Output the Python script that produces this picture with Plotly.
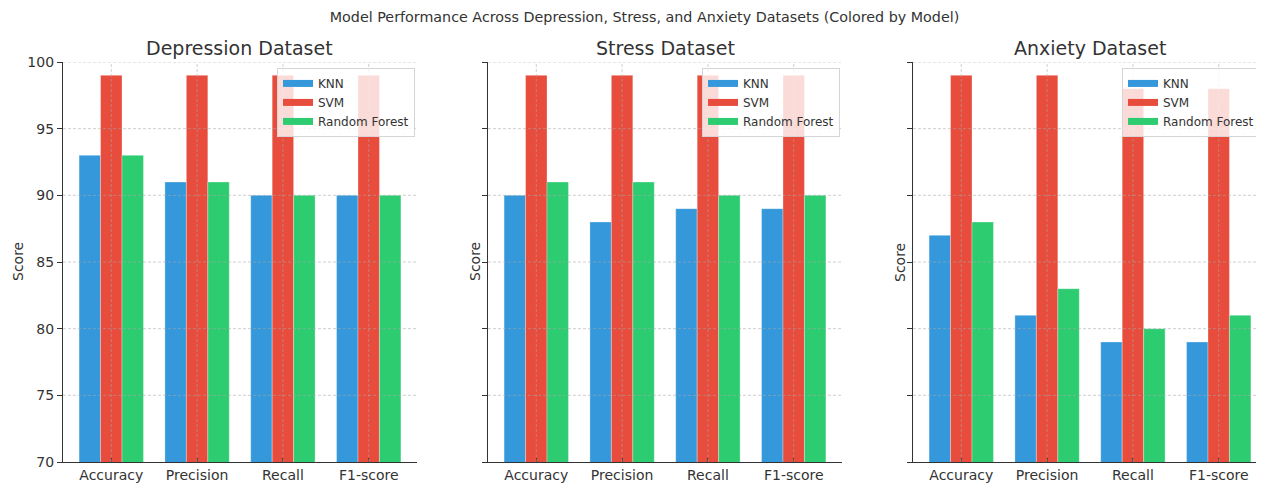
import plotly.graph_objects as go

# ---------------- data ----------------
metrics = ["Accuracy", "Precision", "Recall", "F1-score"]
dataset_titles = ["Depression Dataset", "Stress Dataset", "Anxiety Dataset"]
models = ["KNN", "SVM", "Random Forest"]

knn_depression = [93, 91, 90, 90]
svm_depression = [99, 99, 99, 99]
rf_depression = [93, 91, 90, 90]

knn_stress = [90, 88, 89, 89]
svm_stress = [99, 99, 99, 99]
rf_stress = [91, 91, 90, 90]

knn_anxiety = [87, 81, 79, 79]
svm_anxiety = [99, 99, 98, 98]
rf_anxiety = [88, 83, 80, 81]

y_ticks = [70, 75, 80, 85, 90, 95, 100]

# ---------------- styling ----------------
colors = {"KNN": "#3498db", "SVM": "#e74c3c", "Random Forest": "#2ecc71"}
OFF = 8  # page body margin
W, H = 1264 - OFF, 483 - OFF
ML, MR, MT, MB = 0, 0, 62 - OFF, 16
PH = H - MT - MB
font_family = "DejaVu Sans"
text_col = "#333333"
grid_col = "rgba(170,170,170,0.55)"
axis_col = "#333333"

panel_px = [(63 - OFF, 417 - OFF), (488 - OFF, 842 - OFF), (913 - OFF, 1264 - OFF)]
legend_right_px = [415 - OFF, 840 - OFF, 1260 - OFF]
unit_px = 354 / 4.125  # pixels per category unit (matplotlib-style margins)

series = [
    [knn_depression, svm_depression, rf_depression],
    [knn_stress, svm_stress, rf_stress],
    [knn_anxiety, svm_anxiety, rf_anxiety],
]

fig = go.Figure()
layout = dict(
    width=W, height=H,
    margin=dict(l=ML, r=MR, t=MT, b=MB),
    paper_bgcolor="white", plot_bgcolor="white",
    barmode="group", bargap=0.25, bargroupgap=0.0,
    font=dict(family=font_family, color=text_col, size=14),
    title=dict(
        text="Model Performance Across Depression, Stress, and Anxiety Datasets (Colored by Model)",
        x=(644.5 - OFF) / W, xanchor="center", y=1 - (17 - OFF) / H, yanchor="middle",
        font=dict(size=14.3, color=text_col, family=font_family),
    ),
)

annotations = []
shapes = []

for p in range(3):
    sfx = "" if p == 0 else str(p + 1)
    xa, ya = "x" + sfx, "y" + sfx
    legname = "legend" if p == 0 else "legend" + str(p + 1)
    x0px, x1px = panel_px[p]
    dom = [x0px / W, min(x1px / W, 1.0)]
    rng_hi = -0.5625 + (x1px - x0px) / unit_px

    for m, vals in zip(models, series[p]):
        fig.add_trace(go.Bar(
            x=metrics, y=vals, name=m, xaxis=xa, yaxis=ya,
            marker=dict(color=colors[m], line=dict(width=1, color="rgba(255,255,255,0.3)")),
            showlegend=False, offsetgroup=m,
        ))
    # legend entries drawn as wide patches (matplotlib-like)
    for m in models:
        fig.add_trace(go.Scatter(
            x=[None], y=[None], name=m, xaxis=xa, yaxis=ya, mode="lines",
            line=dict(color=colors[m], width=7), legend=legname, hoverinfo="skip",
        ))

    layout["xaxis" + sfx] = dict(
        domain=dom, anchor=ya, type="category", range=[-0.5625, rng_hi],
        showgrid=False, showline=True, linecolor=axis_col, linewidth=1.3,
        ticks="inside", ticklen=4, tickcolor=axis_col,
        tickfont=dict(size=14, color=text_col), fixedrange=True,
    )
    layout["yaxis" + sfx] = dict(
        domain=[0, 1], anchor=xa, range=[70, 100], tickvals=y_ticks,
        showgrid=False, showline=True, linecolor=axis_col, linewidth=1.3,
        ticks="outside", ticklen=5, tickcolor=axis_col,
        showticklabels=(p == 0), tickfont=dict(size=14, color=text_col),
        zeroline=False, fixedrange=True,
    )
    layout[legname] = dict(
        x=legend_right_px[p] / W, xanchor="right", y=1 - 6 / PH, yanchor="top",
        xref="paper", yref="paper",
        bgcolor="rgba(255,255,255,0.8)", bordercolor="#d5d5d5", borderwidth=1,
        font=dict(size=12, color=text_col, family=font_family),
        traceorder="normal", tracegroupgap=0, itemwidth=30,
    )

    # subplot title
    annotations.append(dict(
        text=dataset_titles[p], xref="paper", yref="paper",
        x=(x0px + 354 / 2) / W,
        y=1 + 14 / PH, xanchor="center", yanchor="middle",
        showarrow=False, font=dict(size=19, color=text_col, family=font_family),
    ))
    # y label
    annotations.append(dict(
        text="Score", xref="paper", yref="paper",
        x=(x0px - (45 if p == 0 else 13)) / W, y=0.5,
        xanchor="center", yanchor="middle", textangle=-90,
        showarrow=False, font=dict(size=14, color=text_col, family=font_family),
    ))

    # dashed grid lines drawn above bars (matplotlib-style)
    for v in y_ticks[1:]:
        shapes.append(dict(
            type="line", xref=xa + " domain", x0=0, x1=1, yref=ya, y0=v, y1=v,
            line=dict(color=grid_col, width=1, dash="3px,2px"), layer="above",
        ))
    for i in range(len(metrics)):
        shapes.append(dict(
            type="line", xref=xa, x0=i, x1=i, yref=ya + " domain", y0=0, y1=1,
            line=dict(color=grid_col, width=1, dash="3px,2px"), layer="above",
        ))

layout["annotations"] = annotations
layout["shapes"] = shapes
fig.update_layout(**layout)

fig.write_html("out.html")
